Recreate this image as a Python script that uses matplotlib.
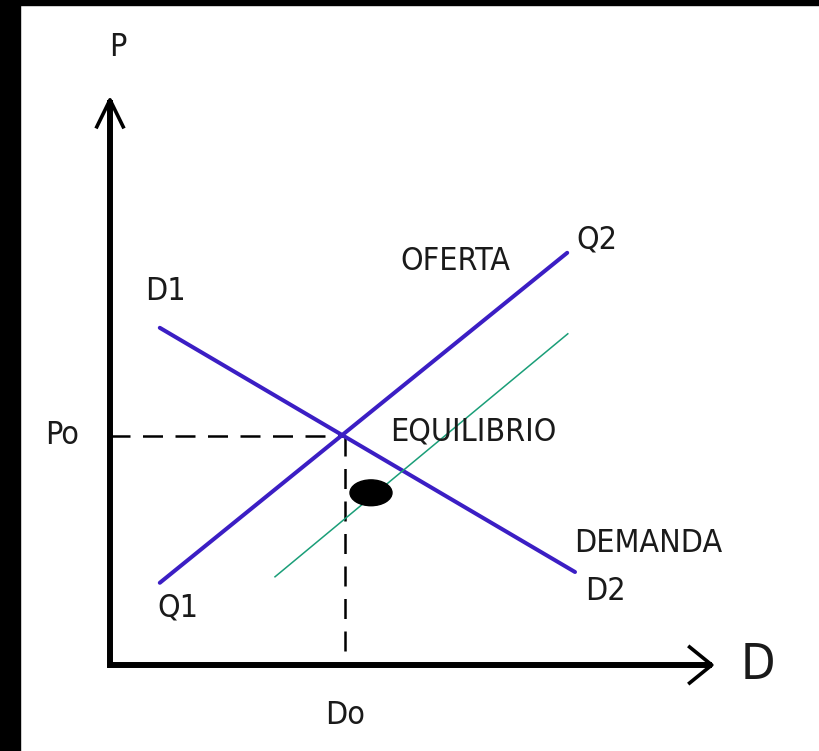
import matplotlib.pyplot as plt
from matplotlib.patches import Ellipse, Rectangle

# diagram units: origin at the axes corner, 1 unit = 60 px
supply_x = [0.83, 7.62]
supply_y = [1.37, 6.87]
demand_x = [0.83, 7.75]
demand_y = [5.62, 1.55]
shift_x = [2.75, 7.63]
shift_y = [1.47, 5.52]
eq_x, eq_y = 3.92, 3.82
dot_x, dot_y = 4.35, 2.87
x_end, y_end = 10.03, 9.42

labels = [
    ('P', 0.13, 10.3),
    ('Po', -0.8, eq_y),
    ('Do', eq_x, -0.85),
    ('D1', 0.92, 6.22),
    ('Q1', 1.13, 0.95),
    ('OFERTA', 5.75, 6.72),
    ('Q2', 8.12, 7.08),
    ('EQUILIBRIO', 6.05, 3.88),
    ('DEMANDA', 8.97, 2.03),
    ('D2', 8.25, 1.22),
]

blue = '#3b1ec4'

fig = plt.figure(figsize=(8.2, 7.51), dpi=100)
ax = fig.add_axes([0, 0, 1, 1])
ax.set_xlim(-110 / 60, 710 / 60)
ax.set_ylim(-86 / 60, 665 / 60)
ax.axis('off')

# black frame on the left and top
fig.patches.append(Rectangle((0, 0), 20 / 820, 1, transform=fig.transFigure,
                             color='black', zorder=10))
fig.patches.append(Rectangle((0, 1 - 5 / 751), 1, 5 / 751, transform=fig.transFigure,
                             color='black', zorder=10))

# axes with open arrow heads
ax.plot([0, 0, x_end], [y_end, 0, 0], color='black', lw=4.3,
        solid_joinstyle='miter', solid_capstyle='butt')
ax.plot([-0.22, 0, 0.22], [y_end - 0.45, y_end, y_end - 0.45], color='black', lw=2.6)
ax.plot([x_end - 0.37, x_end, x_end - 0.37], [0.3, 0, -0.3], color='black', lw=2.6)

# dashed guides to the equilibrium
ax.plot([0, eq_x], [eq_y, eq_y], color='black', lw=1.8, dashes=(8, 5))
ax.plot([eq_x, eq_x], [eq_y, 0], color='black', lw=1.8, dashes=(8, 5))

ax.plot(supply_x, supply_y, color=blue, lw=2.9, solid_capstyle='round')
ax.plot(demand_x, demand_y, color=blue, lw=2.9, solid_capstyle='round')
ax.plot(shift_x, shift_y, color='#1a9e78', lw=1.1)
ax.add_patch(Ellipse((dot_x, dot_y), 0.7, 0.43, color='black', zorder=5))

for text, x, y in labels:
    ax.text(x, y, text, fontsize=23, family='DejaVu Sans', fontstretch='condensed',
            color='#1a1a1a', ha='center', va='center')
ax.text(10.8, 0, 'D', fontsize=36, family='DejaVu Sans', fontstretch='condensed',
        color='#1a1a1a', ha='center', va='center')

fig.savefig('out.png', dpi=100, facecolor='white')
